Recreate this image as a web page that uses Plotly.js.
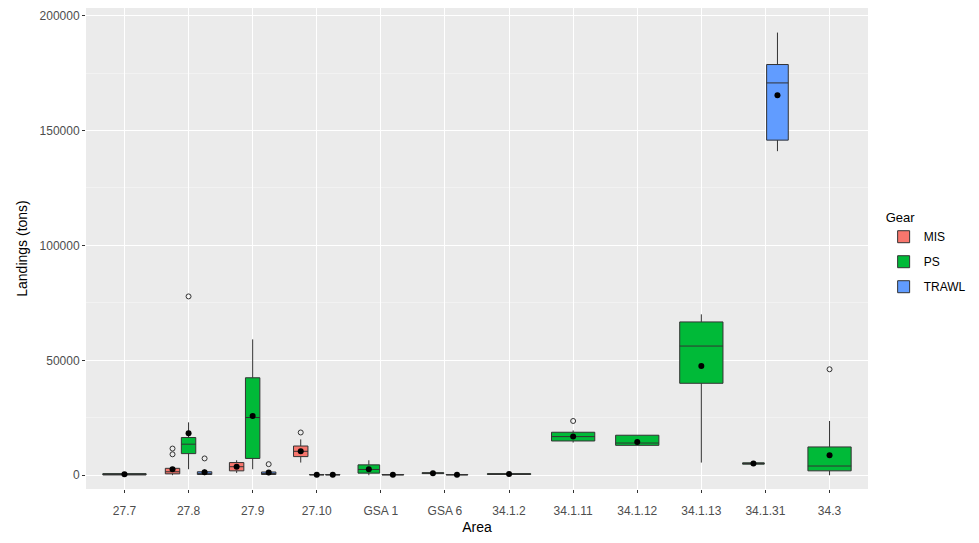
<!DOCTYPE html>
<html>
<head>
<meta charset="utf-8">
<script src="https://cdn.plot.ly/plotly-3.0.1.min.js"></script>
<style>html,body{margin:0;padding:0;background:#fff;}#chart{width:979px;height:543px;}</style>
</head>
<body>
<div id="chart"></div>
<script>
// Categories (x axis order)
const areas = ['27.7','27.8','27.9','27.10','GSA 1','GSA 6','34.1.2','34.1.11','34.1.12','34.1.13','34.1.31','34.3'];
const gears = ['MIS','PS','TRAWL'];
const gearColors = ['#F8766D','#00BA38','#619CFF'];

// MIS
const misArea  = ['27.8','27.9','27.10'];
const misQ1    = [600, 1900, 8100];
const misMed   = [1500, 3700, 10400];
const misQ3    = [3000, 5500, 12700];
const misLo    = [0, 1000, 5500];
const misHi    = [3600, 6500, 15600];
const misMean  = [2600, 3700, 10400];
const misOutArea = ['27.8','27.8','27.10'];
const misOut     = [11600, 9100, 18600];

// PS
const psArea  = ['27.7','27.8','27.9','27.10','GSA 1','GSA 6','34.1.2','34.1.11','34.1.12','34.1.13','34.1.31','34.3'];
const psQ1    = [100, 9400, 7300, 100, 900, 700, 300, 14900, 13000, 40000, 4800, 1900];
const psMed   = [300, 13500, 25100, 200, 2500, 900, 500, 16800, 14000, 56200, 5100, 4000];
const psQ3    = [700, 16400, 42400, 300, 4500, 1100, 700, 18700, 17400, 66700, 5400, 12300];
const psLo    = [0, 2600, 2600, 0, 0, 600, 200, 14200, 13000, 5500, 4600, 0];
const psHi    = [900, 23000, 59100, 400, 6500, 1200, 800, 19500, 17400, 70000, 5600, 23600];
const psMean  = [400, 18300, 25800, 200, 2600, 900, 500, 16800, 14500, 47500, 5100, 8700];
const psOutArea = ['27.8','34.1.11','34.3'];
const psOut     = [77800, 23600, 46100];

// TRAWL
const trawlArea = ['27.8','27.9','27.10','GSA 1','GSA 6','34.1.31'];
const trawlQ1   = [300, 300, 100, 100, 100, 145800];
const trawlMed  = [800, 700, 200, 200, 200, 170700];
const trawlQ3   = [1500, 1400, 300, 300, 300, 178700];
const trawlLo   = [0, 0, 0, 0, 0, 141000];
const trawlHi   = [2500, 2000, 400, 400, 400, 192600];
const trawlMean = [1300, 1200, 200, 200, 200, 165300];
const trawlOutArea = ['27.8','27.9'];
const trawlOut     = [7300, 4800];

const yTicks = [0, 50000, 100000, 150000, 200000];

const series = [
  {gear:'MIS', area:misArea, q1:misQ1, med:misMed, q3:misQ3, lo:misLo, hi:misHi, mean:misMean, outArea:misOutArea, out:misOut},
  {gear:'PS', area:psArea, q1:psQ1, med:psMed, q3:psQ3, lo:psLo, hi:psHi, mean:psMean, outArea:psOutArea, out:psOut},
  {gear:'TRAWL', area:trawlArea, q1:trawlQ1, med:trawlMed, q3:trawlQ3, lo:trawlLo, hi:trawlHi, mean:trawlMean, outArea:trawlOutArea, out:trawlOut}
];

const traces = [];
const clear = 'rgba(0,0,0,0)';
series.forEach((s) => {
  const col = gearColors[gears.indexOf(s.gear)];
  s.area.forEach((a, i) => {
    traces.push({
      type:'box', x:[a], q1:[s.q1[i]], median:[s.med[i]], q3:[s.q3[i]],
      lowerfence:[s.lo[i]], upperfence:[s.hi[i]],
      alignmentgroup:a, offsetgroup:s.gear,
      name:s.gear, legendgroup:s.gear, showlegend:i===0,
      fillcolor:col, line:{color:'#333333', width:1}, whiskerwidth:0,
      boxpoints:false, hoverinfo:'y'
    });
  });
});
// means and outliers drawn as points on invisible boxes, aligned with the dodged boxes
series.forEach((s) => {
  s.area.forEach((a, i) => {
    traces.push({
      type:'box', x:[a], y:[s.mean[i]], alignmentgroup:a, offsetgroup:s.gear,
      boxpoints:'all', jitter:0, pointpos:0, showlegend:false, legendgroup:s.gear,
      fillcolor:clear, line:{color:clear, width:0}, whiskerwidth:0,
      marker:{color:'#000000', size:6}, hoverinfo:'y'
    });
  });
  const outAreas = [...new Set(s.outArea)];
  outAreas.forEach((a) => {
    const ys = s.out.filter((v, k) => s.outArea[k] === a);
    traces.push({
      type:'box', x:ys.map(() => a), y:ys, alignmentgroup:a, offsetgroup:s.gear,
      boxpoints:'all', jitter:0, pointpos:0, showlegend:false, legendgroup:s.gear,
      fillcolor:clear, line:{color:clear, width:0}, whiskerwidth:0,
      marker:{color:'#333333', size:5, symbol:'circle-open', line:{width:1, color:'#333333'}}, hoverinfo:'y'
    });
  });
});

const layout = {
  width:979, height:543,
  font:{family:'"Liberation Sans", Arial, sans-serif', color:'#000'},
  paper_bgcolor:'#ffffff', plot_bgcolor:'#EBEBEB',
  margin:{l:86, r:107, t:8, b:54},
  boxmode:'group', boxgap:0.25, boxgroupgap:0.1,
  showlegend:true,
  xaxis:{
    type:'category', categoryorder:'array', categoryarray:areas,
    range:[-0.6, 11.6], showgrid:true, gridcolor:'#ffffff', gridwidth:1,
    zeroline:false, showline:false, ticks:'outside', ticklen:3, tickcolor:'#333333',
    ticklabelstandoff:8,
    tickfont:{size:12, color:'#4D4D4D'},
    title:{text:'Area', font:{size:14, color:'#000'}, standoff:4}
  },
  yaxis:{
    range:[-6000, 203300], tickvals:yTicks, ticktext:yTicks.map(String),
    showgrid:true, gridcolor:'#ffffff', gridwidth:1,
    minor:{tickvals:[25000,75000,125000,175000], showgrid:true, gridcolor:'#F6F6F6', gridwidth:0.6, ticks:''},
    zeroline:false, showline:false, ticks:'outside', ticklen:3, tickcolor:'#333333',
    tickfont:{size:12, color:'#4D4D4D'},
    title:{text:'Landings (tons)', font:{size:14, color:'#000'}, standoff:8}
  },
  legend:{
    title:{text:'Gear', font:{size:13, color:'#000'}},
    x:1.02, xanchor:'left', y:0.49, yanchor:'middle',
    bgcolor:clear, font:{size:12, color:'#000'}, tracegroupgap:6, itemwidth:30
  }
};

Plotly.newPlot('chart', traces, layout, {displayModeBar:false, staticPlot:true});
</script>
</body>
</html>
